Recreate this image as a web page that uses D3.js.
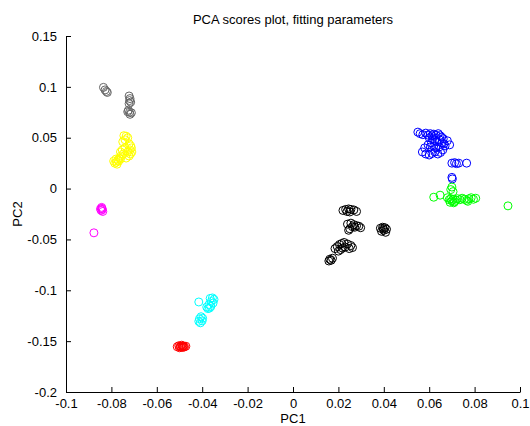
<!DOCTYPE html>
<html>
<head>
<meta charset="utf-8">
<script src="https://cdn.jsdelivr.net/npm/d3@7"></script>
<style>
  html, body { margin: 0; padding: 0; background: #fff; }
  svg { display: block; font-family: "Liberation Sans", Arial, sans-serif; }
</style>
</head>
<body>
<svg id="chart" width="530" height="426"></svg>
<script>
const xTicks = [-0.1, -0.08, -0.06, -0.04, -0.02, 0, 0.02, 0.04, 0.06, 0.08, 0.1];
const xTickLabels = ["-0.1", "-0.08", "-0.06", "-0.04", "-0.02", "0", "0.02", "0.04", "0.06", "0.08", "0.1"];
const yTicks = [-0.2, -0.15, -0.1, -0.05, 0, 0.05, 0.1, 0.15];
const yTickLabels = ["-0.2", "-0.15", "-0.1", "-0.05", "0", "0.05", "0.1", "0.15"];

const grayPts = [[-0.0835,0.0995],[-0.0828,0.0970],[-0.0822,0.0955],[-0.0818,0.0945],
  [-0.0722,0.0910],[-0.0718,0.0885],[-0.0720,0.0865],[-0.0715,0.0850],[-0.0722,0.0835],
  [-0.0725,0.0770],[-0.0720,0.0750],[-0.0718,0.0730],[-0.0712,0.0745],[-0.0728,0.0755]];
const yellowPts = [[-0.0745,0.0520],[-0.0735,0.0515],[-0.0728,0.0500],[-0.0740,0.0480],[-0.0750,0.0460],
  [-0.0722,0.0440],[-0.0715,0.0420],[-0.0712,0.0400],[-0.0718,0.0380],[-0.0710,0.0360],[-0.0716,0.0340],
  [-0.0722,0.0320],[-0.0740,0.0400],[-0.0752,0.0380],[-0.0760,0.0360],[-0.0748,0.0340],[-0.0758,0.0320],
  [-0.0765,0.0300],[-0.0772,0.0280],[-0.0778,0.0260],[-0.0785,0.0250],[-0.0775,0.0240],[-0.0768,0.0270],
  [-0.0780,0.0290],[-0.0790,0.0270],[-0.0760,0.0290],[-0.0735,0.0300],[-0.0728,0.0360]];
const magentaPts = [[-0.0843,-0.0185],[-0.0840,-0.0205],[-0.0845,-0.0215],[-0.0838,-0.0225],
  [-0.0842,-0.0195],[-0.0848,-0.0200],[-0.0877,-0.0435]];
const cyanPts = [[-0.0415,-0.1115],[-0.0365,-0.1080],[-0.0355,-0.1075],[-0.0348,-0.1090],[-0.0360,-0.1110],
  [-0.0352,-0.1125],[-0.0370,-0.1140],[-0.0362,-0.1160],[-0.0375,-0.1180],[-0.0368,-0.1175],[-0.0380,-0.1165],
  [-0.0405,-0.1260],[-0.0412,-0.1280],[-0.0400,-0.1300],[-0.0408,-0.1320],[-0.0415,-0.1305],[-0.0398,-0.1275]];
const redPts = [[-0.0510,-0.1555],[-0.0503,-0.1545],[-0.0496,-0.1550],[-0.0490,-0.1540],[-0.0484,-0.1548],
  [-0.0478,-0.1555],[-0.0472,-0.1550],[-0.0500,-0.1565],[-0.0490,-0.1562],[-0.0482,-0.1560],
  [-0.0495,-0.1555],[-0.0486,-0.1553]];
const blackPts = [[0.0220,-0.0215],[0.0232,-0.0205],[0.0245,-0.0200],[0.0255,-0.0205],[0.0268,-0.0210],
  [0.0280,-0.0225],[0.0250,-0.0230],[0.0238,-0.0225],
  [0.0240,-0.0350],[0.0255,-0.0340],[0.0268,-0.0355],[0.0280,-0.0365],[0.0290,-0.0370],[0.0298,-0.0385],
  [0.0262,-0.0375],[0.0250,-0.0395],[0.0245,-0.0410],[0.0272,-0.0380],
  [0.0385,-0.0390],[0.0395,-0.0380],[0.0405,-0.0385],[0.0412,-0.0400],[0.0400,-0.0410],[0.0390,-0.0420],
  [0.0398,-0.0395],[0.0408,-0.0430],
  [0.0185,-0.0590],[0.0195,-0.0570],[0.0205,-0.0550],[0.0215,-0.0540],[0.0225,-0.0530],[0.0240,-0.0545],
  [0.0255,-0.0560],[0.0230,-0.0575],[0.0218,-0.0585],[0.0210,-0.0600],[0.0248,-0.0590],[0.0262,-0.0580],
  [0.0200,-0.0615],
  [0.0162,-0.0695],[0.0168,-0.0705],[0.0174,-0.0685],[0.0158,-0.0712]];
const bluePts = [[0.0550,0.0555],[0.0560,0.0540],[0.0572,0.0530],[0.0585,0.0545],[0.0595,0.0525],
  [0.0605,0.0540],[0.0612,0.0520],[0.0620,0.0535],[0.0630,0.0525],[0.0640,0.0540],[0.0648,0.0520],
  [0.0655,0.0505],[0.0662,0.0490],[0.0600,0.0500],[0.0615,0.0490],[0.0625,0.0475],[0.0635,0.0460],
  [0.0645,0.0480],[0.0655,0.0450],[0.0665,0.0440],[0.0670,0.0420],[0.0680,0.0470],[0.0690,0.0430],
  [0.0610,0.0450],[0.0595,0.0430],[0.0580,0.0400],[0.0570,0.0360],[0.0585,0.0340],[0.0600,0.0330],
  [0.0612,0.0345],[0.0625,0.0360],[0.0638,0.0340],[0.0650,0.0355],[0.0660,0.0380],[0.0630,0.0400],
  [0.0645,0.0410],[0.0620,0.0420],[0.0605,0.0410],
  [0.0700,0.0250],[0.0712,0.0255],[0.0720,0.0245],[0.0730,0.0250],[0.0765,0.0250],
  [0.0700,0.0110],[0.0702,0.0095]];
const greenPts = [[0.0700,0.0015],[0.0695,-0.0010],[0.0705,-0.0030],[0.0620,-0.0085],[0.0648,-0.0065],
  [0.0680,-0.0090],[0.0688,-0.0110],[0.0695,-0.0100],[0.0700,-0.0120],[0.0705,-0.0105],[0.0712,-0.0130],
  [0.0718,-0.0115],[0.0692,-0.0135],[0.0708,-0.0140],[0.0725,-0.0100],[0.0735,-0.0110],[0.0745,-0.0095],
  [0.0755,-0.0105],[0.0765,-0.0115],[0.0775,-0.0100],[0.0785,-0.0090],[0.0795,-0.0105],[0.0805,-0.0095],
  [0.0770,-0.0125],[0.0947,-0.0170]];

const groups = [
  {pts: grayPts, color: "#666666"},
  {pts: yellowPts, color: "#ffff00"},
  {pts: magentaPts, color: "#ff00ff"},
  {pts: cyanPts, color: "#00ffff"},
  {pts: redPts, color: "#ff0000"},
  {pts: blackPts, color: "#000000"},
  {pts: bluePts, color: "#0000ff"},
  {pts: greenPts, color: "#00ff00"}
];

const svg = d3.select("#chart");
const L = 66, R = 520, T = 36, B = 392;
const x = d3.scaleLinear().domain([-0.1, 0.1]).range([L, R]);
const y = d3.scaleLinear().domain([-0.2, 0.15]).range([B, T]);

// points
groups.forEach(g => {
  svg.append("g").selectAll("circle").data(g.pts).enter().append("circle")
    .attr("cx", d => x(d[0])).attr("cy", d => y(d[1])).attr("r", 4)
    .attr("fill", "none").attr("stroke", g.color).attr("stroke-width", 1);
});

// axes
const xAxis = d3.axisBottom(x).tickValues(xTicks).tickFormat((d, i) => xTickLabels[i])
  .tickSizeInner(-5).tickSizeOuter(0).tickPadding(7);
const gx = svg.append("g").attr("transform", `translate(0,${B})`).call(xAxis);
const yAxis = d3.axisLeft(y).tickValues(yTicks).tickFormat((d, i) => yTickLabels[i])
  .tickSizeInner(-5).tickSizeOuter(0).tickPadding(9);
const gy = svg.append("g").attr("transform", `translate(${L},0)`).call(yAxis);
[gx, gy].forEach(g => {
  g.select(".domain").attr("stroke", "#000").attr("stroke-width", 1);
  g.selectAll(".tick line").attr("stroke", "#000");
  g.selectAll(".tick text").attr("fill", "#000").style("font-size", "13px")
    .style("font-family", "'Liberation Sans', Arial, sans-serif");
});

svg.append("text").attr("x", (L + R) / 2).attr("y", 24).attr("text-anchor", "middle")
  .style("font-size", "13px").text("PCA scores plot, fitting parameters");
svg.append("text").attr("x", (L + R) / 2).attr("y", 423).attr("text-anchor", "middle")
  .style("font-size", "13px").text("PC1");
svg.append("text").attr("transform", `translate(22,${(T + B) / 2}) rotate(-90)`)
  .attr("text-anchor", "middle").style("font-size", "13px").text("PC2");
</script>
</body>
</html>
